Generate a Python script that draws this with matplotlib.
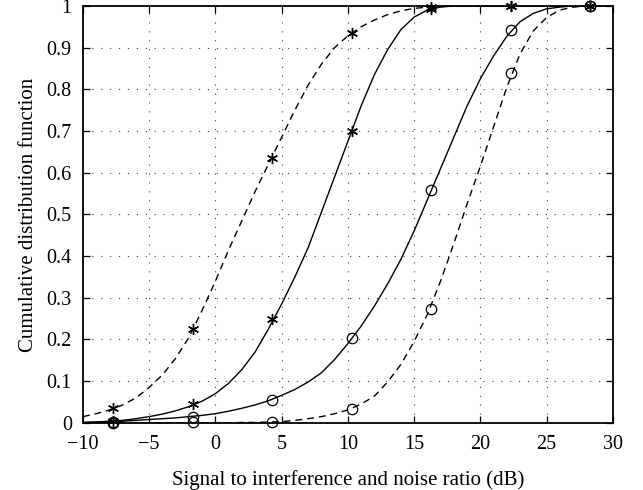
import matplotlib
matplotlib.use("Agg")
from matplotlib import pyplot as plt
import numpy as np

# SINR grid (dB) for the curves
sinr = np.arange(-10, 31)

cdf_a = [0.015, 0.022, 0.031, 0.043, 0.06, 0.085, 0.115, 0.155, 0.205, 0.27,
         0.34, 0.415, 0.485, 0.555, 0.62, 0.685, 0.75, 0.81, 0.86, 0.90,
         0.928, 0.95, 0.966, 0.979, 0.988, 0.994, 0.997, 0.999, 1.0, 1.0,
         1.0, 1.0, 1.0, 1.0, 1.0, 1.0, 1.0, 1.0, 1.0, 1.0, 1.0]
cdf_b = [0.001, 0.002, 0.004, 0.006, 0.01, 0.015, 0.021, 0.029, 0.039, 0.052,
         0.07, 0.095, 0.128, 0.17, 0.225, 0.285, 0.35, 0.42, 0.505, 0.59,
         0.675, 0.76, 0.835, 0.895, 0.943, 0.973, 0.99, 0.997, 1.0, 1.0,
         1.0, 1.0, 1.0, 1.0, 1.0, 1.0, 1.0, 1.0, 1.0, 1.0, 1.0]
cdf_c = [0.001, 0.002, 0.003, 0.004, 0.006, 0.008, 0.01, 0.012, 0.015, 0.018,
         0.022, 0.028, 0.035, 0.043, 0.053, 0.066, 0.08, 0.098, 0.12, 0.152,
         0.19, 0.232, 0.28, 0.333, 0.392, 0.46, 0.535, 0.61, 0.685, 0.76,
         0.825, 0.88, 0.927, 0.962, 0.982, 0.993, 0.997, 1.0, 1.0, 1.0, 1.0]
cdf_d = [0.0, 0.0, 0.0, 0.0, 0.0, 0.0, 0.0, 0.0, 0.0, 0.0,
         0.0, 0.0, 0.001, 0.001, 0.002, 0.003, 0.006, 0.01, 0.015, 0.022,
         0.031, 0.045, 0.064, 0.098, 0.14, 0.195, 0.26, 0.34, 0.43, 0.525,
         0.615, 0.71, 0.805, 0.885, 0.94, 0.972, 0.99, 0.997, 1.0, 1.0, 1.0]

# marker positions
mk_x = [-7.7, -1.7, 4.3, 10.3, 16.3, 22.3, 28.3]
mk_a = [0.035, 0.225, 0.635, 0.935, 0.997, 1.0, 1.0]
mk_b = [0.004, 0.045, 0.248, 0.70, 0.993, 1.0, 1.0]
mk_c = [0.002, 0.014, 0.056, 0.204, 0.558, 0.943, 1.0]
mk_d = [0.0, 0.003, 0.002, 0.033, 0.272, 0.839, 1.0]

plt.rcParams['font.family'] = ['Liberation Serif', 'DejaVu Serif']

fig = plt.figure(figsize=(6.43, 4.9), dpi=100)
ax = fig.add_axes([0.129, 0.137, 0.824, 0.851])

ax.plot(sinr, cdf_a, 'k--', lw=1.0, dashes=(5, 3.5))
ax.plot(sinr, cdf_b, 'k-', lw=1.0)
ax.plot(sinr, cdf_c, 'k-', lw=1.0)
ax.plot(sinr, cdf_d, 'k--', lw=1.0, dashes=(5, 3.5))

asterisk = (6, 2, 0)
ax.plot(mk_x, mk_a, color='k', marker=asterisk, ms=8, mew=1.0, ls='none', clip_on=False)
ax.plot(mk_x, mk_b, color='k', marker=asterisk, ms=8, mew=1.0, ls='none', clip_on=False)
ax.plot(mk_x, mk_c, 'ko', ms=7.5, mfc='none', mew=0.9, ls='none', clip_on=False)
ax.plot(mk_x, mk_d, 'ko', ms=7.5, mfc='none', mew=0.9, ls='none', clip_on=False)

ax.set_xlim(-10, 30)
ax.set_ylim(0, 1)
ax.set_xticks(np.arange(-10, 31, 5))
ax.set_yticks(np.arange(0, 1.01, 0.1))
ax.set_yticklabels(['0', '0.1', '0.2', '0.3', '0.4', '0.5', '0.6', '0.7', '0.8', '0.9', '1'])
ax.grid(True, ls=(0, (1, 7)), color='0.25', lw=0.8)
ax.tick_params(direction='in', top=True, right=True, labelsize=14.5, length=5, width=0.9)
ax.tick_params(axis='x', pad=9)
ax.tick_params(axis='y', pad=8)
for s in ax.spines.values():
    s.set_linewidth(1.3)

ax.set_xlabel('Signal to interference and noise ratio (dB)', fontsize=15, labelpad=11)
ax.set_ylabel('Cumulative distribution function', fontsize=15, labelpad=6)

fig.savefig('out.png', dpi=100)
